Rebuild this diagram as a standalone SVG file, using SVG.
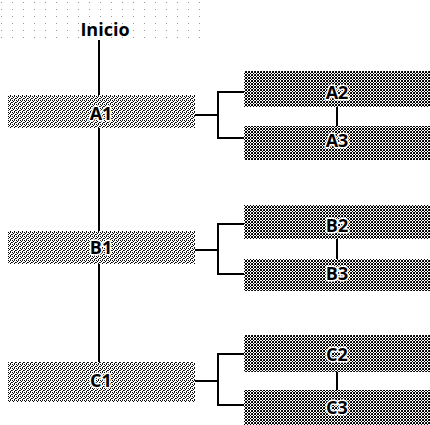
<svg xmlns="http://www.w3.org/2000/svg" width="430" height="425" viewBox="0 0 430 425">
<defs>
<pattern id="dLight" width="4" height="4" patternUnits="userSpaceOnUse">
<rect width="4" height="4" fill="#fff"/>
<rect x="0" y="0" width="1" height="1" fill="#000"/>
<rect x="2" y="0" width="1" height="1" fill="#222"/>
<rect x="1" y="1" width="1" height="1" fill="#000"/>
<rect x="3" y="2" width="1" height="1" fill="#000"/>
<rect x="0" y="2" width="1" height="1" fill="#333"/>
<rect x="2" y="3" width="1" height="1" fill="#000"/>
</pattern>
<pattern id="dDark" width="3" height="3" patternUnits="userSpaceOnUse">
<rect width="3" height="3" fill="#fff"/>
<rect x="0" y="0" width="1" height="1" fill="#000"/>
<rect x="2" y="0" width="1" height="1" fill="#000"/>
<rect x="1" y="1" width="1" height="1" fill="#000"/>
<rect x="0" y="2" width="1" height="1" fill="#000"/>
<rect x="2" y="2" width="1" height="1" fill="#222"/>
</pattern>
<pattern id="dFaint" width="11" height="7" patternUnits="userSpaceOnUse">
<rect width="11" height="7" fill="#fff"/>
<rect x="1" y="2" width="1" height="1" fill="#999"/>
</pattern>
</defs>
<style>
.lbl{font-family:"Open Sans","DejaVu Sans",sans-serif;font-weight:bold;font-size:18px;fill:#000;text-anchor:middle;stroke:#fff;stroke-width:3px;paint-order:stroke;stroke-linejoin:round}
.conn{fill:none;stroke:#000;stroke-width:2}
.l{fill:url(#dLight)}
.r{fill:url(#dDark)}
</style>
<rect width="430" height="425" fill="#fff"/>
<g id="inicio">
<rect x="0" y="2" width="200" height="38" fill="url(#dFaint)"/>
<text class="lbl" x="105" y="36" font-size="17">Inicio</text>
</g>
<g id="connectors">
<path class="conn" d="M99 40V95M99 128V231M99 264V362"/>
<path class="conn" d="M195 115H218M244 92H218V138H244M337 107V126"/>
<path class="conn" d="M195 250H218M244 224H218V274H244M337 239V259"/>
<path class="conn" d="M195 381H218M244 354H218V405H244M337 372V390"/>
</g>
<g id="A1"><rect class="l" x="8" y="95" width="187" height="33"/><text class="lbl" x="101" y="120">A1</text></g>
<g id="A2"><rect class="r" x="244" y="71" width="186" height="36"/><text class="lbl" x="337" y="99">A2</text></g>
<g id="A3"><rect class="r" x="244" y="126" width="186" height="34"/><text class="lbl" x="337" y="147">A3</text></g>
<g id="B1"><rect class="l" x="8" y="231" width="187" height="33"/><text class="lbl" x="101" y="254">B1</text></g>
<g id="B2"><rect class="r" x="244" y="205" width="186" height="34"/><text class="lbl" x="337" y="232">B2</text></g>
<g id="B3"><rect class="r" x="244" y="259" width="186" height="32"/><text class="lbl" x="337" y="280">B3</text></g>
<g id="C1"><rect class="l" x="8" y="362" width="187" height="40"/><text class="lbl" x="101" y="387">C1</text></g>
<g id="C2"><rect class="r" x="244" y="335" width="186" height="37"/><text class="lbl" x="337" y="361">C2</text></g>
<g id="C3"><rect class="r" x="244" y="390" width="186" height="35"/><text class="lbl" x="337" y="414">C3</text></g>
</svg>
